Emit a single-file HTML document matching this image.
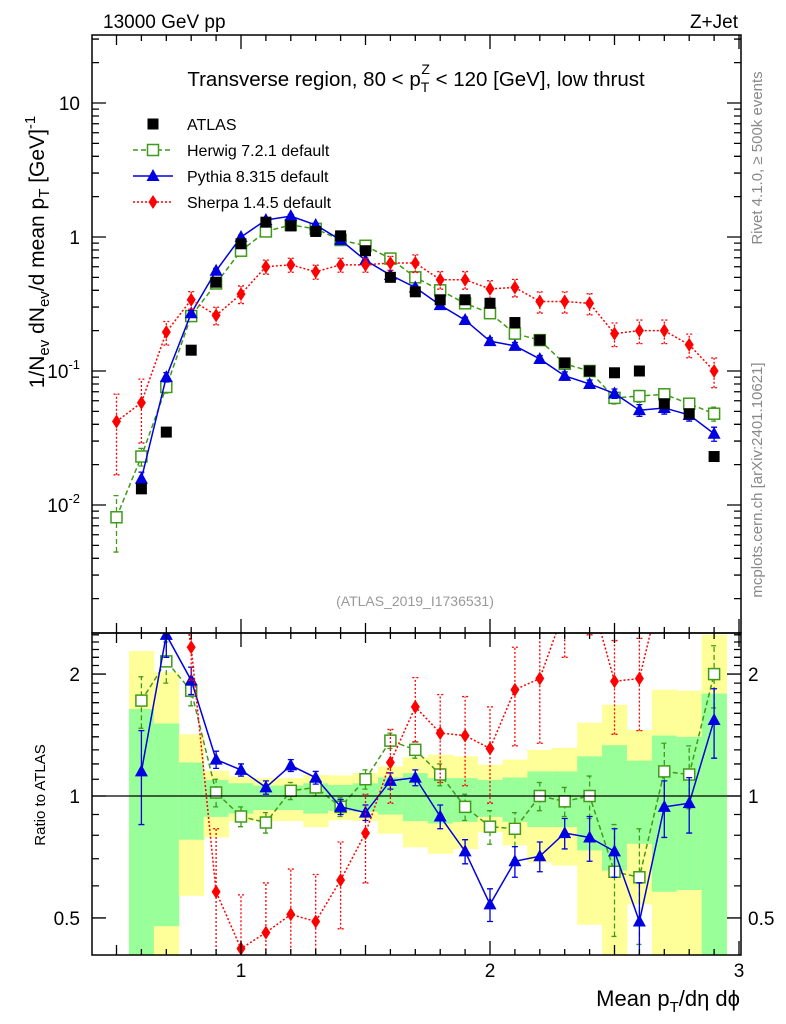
<!DOCTYPE html>
<html><head><meta charset="utf-8"><style>
html,body{margin:0;padding:0;background:#fff;}
svg{display:block;font-family:"Liberation Sans",sans-serif;}
</style></head><body>
<svg id="chart" width="786" height="1024" viewBox="0 0 786 1024" xmlns="http://www.w3.org/2000/svg">
<defs>
<clipPath id="clipMain"><rect x="92" y="35" width="649" height="598"/></clipPath>
<clipPath id="clipRatio"><rect x="92" y="633" width="649" height="322"/></clipPath>
</defs>
<g id="bands" clip-path="url(#clipRatio)"></g>
<g id="marks"></g>
<g id="axes"></g>
<text x="103" y="28" font-size="19">13000 GeV pp</text>
<text x="738" y="28" font-size="19" text-anchor="end">Z+Jet</text>
<text x="416" y="86" font-size="20.5" text-anchor="middle">Transverse region, 80 &lt; p<tspan font-size="14" dy="6">T</tspan><tspan font-size="14" dx="-8" dy="-18">Z</tspan><tspan dy="12"> &lt; 120 [GeV], low thrust</tspan></text>
<g>
<text x="187" y="130" font-size="16">ATLAS</text>
<text x="187" y="156" font-size="16">Herwig 7.2.1 default</text>
<text x="187" y="182" font-size="16">Pythia 8.315 default</text>
<text x="187" y="208" font-size="16">Sherpa 1.4.5 default</text>
</g>
<text transform="translate(44,252) rotate(-90)" font-size="21" text-anchor="middle">1/N<tspan font-size="15" dy="5">ev</tspan><tspan dy="-5"> dN</tspan><tspan font-size="15" dy="5">ev</tspan><tspan dy="-5">/d mean p</tspan><tspan font-size="15" dy="5">T</tspan><tspan dy="-5"> [GeV]</tspan><tspan font-size="15" dy="-9">-1</tspan></text>
<text transform="translate(45,795) rotate(-90)" font-size="15" text-anchor="middle">Ratio to ATLAS</text>
<text transform="translate(762,158) rotate(-90)" font-size="15" fill="#888" text-anchor="middle">Rivet 4.1.0, ≥ 500k events</text>
<text transform="translate(762,480) rotate(-90)" font-size="15" fill="#888" text-anchor="middle">mcplots.cern.ch [arXiv:2401.10621]</text>
<text x="415" y="606" font-size="14" fill="#999" text-anchor="middle">(ATLAS_2019_I1736531)</text>
<text x="740" y="1006" font-size="22" text-anchor="end">Mean p<tspan font-size="15" dy="6">T</tspan><tspan dy="-6">/dη dϕ</tspan></text>
</svg>
<script>
const xCenters=[0.5,0.6,0.7,0.8,0.9,1.0,1.1,1.2,1.3,1.4,1.5,1.6,1.7,1.8,1.9,2.0,2.1,2.2,2.3,2.4,2.5,2.6,2.7,2.8,2.9];
const atlasVals=[0.001,0.0132,0.035,0.143,0.46,0.89,1.29,1.21,1.1,1.02,0.79,0.50,0.39,0.34,0.34,0.32,0.23,0.17,0.115,0.10,0.097,0.10,0.057,0.048,0.023];
const herwigVals=[0.0081,0.023,0.076,0.257,0.45,0.79,1.1,1.23,1.15,0.95,0.86,0.69,0.50,0.40,0.32,0.27,0.19,0.17,0.113,0.10,0.063,0.065,0.067,0.057,0.048];
const pythiaVals=[null,0.0157,0.09,0.27,0.56,1.0,1.34,1.43,1.23,0.95,0.67,0.52,0.42,0.31,0.24,0.167,0.154,0.123,0.092,0.08,0.068,0.051,0.053,0.047,0.034];
const sherpaVals=[0.042,0.058,0.195,0.34,0.26,0.375,0.6,0.62,0.55,0.62,0.62,0.64,0.64,0.48,0.48,0.41,0.42,0.33,0.33,0.32,0.19,0.2,0.2,0.157,0.10];
const herwigErr=[0.45,0.15,0.1,0.08,0.05,0.04,0.04,0.04,0.04,0.04,0.04,0.04,0.05,0.05,0.05,0.06,0.06,0.06,0.07,0.07,0.1,0.1,0.1,0.1,0.12];
const pythiaErr=[0,0.12,0.08,0.05,0.04,0.03,0.03,0.03,0.03,0.03,0.03,0.04,0.04,0.05,0.05,0.06,0.06,0.06,0.07,0.07,0.08,0.1,0.1,0.1,0.12];
const sherpaErr=[0.6,0.5,0.2,0.15,0.15,0.15,0.12,0.12,0.12,0.12,0.12,0.12,0.15,0.15,0.15,0.15,0.15,0.18,0.18,0.18,0.2,0.2,0.2,0.2,0.25];
const herwigRatio=[null,1.72,2.15,1.82,1.02,0.89,0.86,1.03,1.05,0.94,1.1,1.37,1.3,1.13,0.94,0.84,0.83,1.0,0.97,1.0,0.65,0.63,1.15,1.13,2.0];
const pythiaRatio=[null,1.15,2.5,1.93,1.23,1.16,1.05,1.19,1.11,0.94,0.91,1.09,1.11,0.89,0.73,0.54,0.69,0.71,0.81,0.79,0.73,0.49,0.94,0.96,1.54];
const sherpaRatio=[null,4.4,5.6,2.33,0.58,0.42,0.46,0.51,0.49,0.62,0.81,1.21,1.66,1.43,1.41,1.31,1.83,1.95,2.9,3.2,1.92,1.95,3.5,3.3,4.3];
const herwigRatioErr=[0,0.25,0.25,0.15,0.08,0.05,0.05,0.05,0.05,0.05,0.06,0.06,0.06,0.07,0.07,0.08,0.08,0.08,0.08,0.12,0.2,0.2,0.2,0.2,0.35];
const pythiaRatioErr=[0,0.3,0.3,0.15,0.06,0.04,0.04,0.04,0.04,0.04,0.04,0.05,0.05,0.06,0.05,0.05,0.06,0.06,0.07,0.1,0.1,0.12,0.15,0.15,0.3];
const sherpaRatioErr=[0,1,1,0.4,0.25,0.15,0.15,0.15,0.15,0.15,0.2,0.25,0.3,0.35,0.35,0.35,0.5,0.6,0.7,0.7,0.5,0.5,0.7,0.7,0.8];
const yellowHi=[null,2.28,2.02,1.42,1.155,1.117,1.107,1.107,1.128,1.124,1.139,1.183,1.246,1.265,1.253,1.195,1.23,1.30,1.315,1.517,1.68,1.455,1.83,1.82,2.5];
const greenHi=[null,1.64,1.51,1.21,1.096,1.075,1.061,1.061,1.075,1.065,1.075,1.111,1.139,1.107,1.107,1.096,1.111,1.15,1.15,1.253,1.335,1.223,1.41,1.40,1.79];
const greenLo=[null,0.3,0.477,0.78,0.888,0.905,0.923,0.923,0.905,0.919,0.914,0.9,0.867,0.855,0.863,0.888,0.863,0.838,0.838,0.734,0.654,0.762,0.58,0.586,0.3];
const yellowLo=[null,0.3,0.3,0.567,0.79,0.867,0.867,0.867,0.838,0.871,0.867,0.807,0.747,0.72,0.74,0.815,0.755,0.686,0.673,0.481,0.3,0.54,0.3,0.3,0.3];

const NS='http://www.w3.org/2000/svg';
const X0=92,X1=741,MT=35,MB=633,RB=955;
function sx(v){return 241+(v-1)*249;}
function sy(v){return 237-Math.log10(v)*134;}
function sr(v){return 796-Math.log10(v)*405;}
function mk(tag,attrs,parent){const e=document.createElementNS(NS,tag);for(const k in attrs)e.setAttribute(k,attrs[k]);parent.appendChild(e);return e;}
const bands=document.getElementById('bands');
const marks=document.getElementById('marks');
const axes=document.getElementById('axes');
const gMain=mk('g',{'clip-path':'url(#clipMain)'},marks);


const gRatio=mk('g',{'clip-path':'url(#clipRatio)'},marks);



xCenters.forEach((x,i)=>{
  if(yellowHi[i]==null)return;
  const xa=sx(x-0.05),w=sx(x+0.05)-xa;
  const y=mk('rect',{x:xa,y:sr(yellowHi[i]),width:w+0.5,height:sr(yellowLo[i])-sr(yellowHi[i]),fill:'#ffff99'},bands);
  
  
  const g=mk('rect',{x:xa,y:sr(greenHi[i]),width:w+0.5,height:sr(greenLo[i])-sr(greenHi[i]),fill:'#99ff99'},bands);
  
  
});
const one=mk('line',{x1:X0,x2:X1,y1:sr(1),y2:sr(1),stroke:'#000','stroke-width':1.3},marks);



function marker(type,cx,cy,color,parent,name){
  let e;
  if(type==='sq') e=mk('rect',{x:cx-5.5,y:cy-5.5,width:11,height:11,fill:'#000'},parent);
  else if(type==='osq') e=mk('rect',{x:cx-5.5,y:cy-5.5,width:11,height:11,fill:'#fff',stroke:color,'stroke-width':1.5},parent);
  else if(type==='tri') e=mk('polygon',{points:`${cx},${cy-7} ${cx-6.5},${cy+5} ${cx+6.5},${cy+5}`,fill:color},parent);
  else e=mk('polygon',{points:`${cx},${cy-7} ${cx-4.5},${cy} ${cx},${cy+7} ${cx+4.5},${cy}`,fill:color},parent);
  
  
}
function series(vals,errs,fy,type,color,dash,parent,name,rel){
  const pts=[];
  xCenters.forEach((x,i)=>{if(vals[i]!=null)pts.push([sx(x),fy(vals[i]),i]);});
  const pl=mk('polyline',{points:pts.map(p=>p[0]+','+p[1]).join(' '),fill:'none',stroke:color,'stroke-width':1.5,'stroke-dasharray':dash},parent);
  
  
  pts.forEach(p=>{
    const v=vals[p[2]],e=errs[p[2]];
    if(e>0){
      const lo=rel?v*(1-e):v-e, hi=rel?v*(1+e):v+e;
      const yl=fy(Math.max(lo,1e-4)),yh=fy(hi);
      const el=mk('path',{d:`M${p[0]},${yl}V${yh}M${p[0]-3},${yl}H${p[0]+3}M${p[0]-3},${yh}H${p[0]+3}`,stroke:color,'stroke-width':1.3,fill:'none','stroke-dasharray':dash},parent);
      
      
    }
    marker(type,p[0],p[1],color,parent,name+'-point');
  });
}
const GREEN='#3f9a1a',BLUE='#0000e0',RED='#ff0000';
series(herwigVals,herwigErr,sy,'osq',GREEN,'5,3',gMain,'herwig',true);
series(pythiaVals,pythiaErr,sy,'tri',BLUE,'',gMain,'pythia',true);
series(sherpaVals,sherpaErr,sy,'dia',RED,'2,2',gMain,'sherpa',true);
xCenters.forEach((x,i)=>{marker('sq',sx(x),sy(atlasVals[i]),'#000',gMain,'atlas-point');});
series(herwigRatio,herwigRatioErr,sr,'osq',GREEN,'5,3',gRatio,'herwig-ratio',false);
series(pythiaRatio,pythiaRatioErr,sr,'tri',BLUE,'',gRatio,'pythia-ratio',false);
series(sherpaRatio,sherpaRatioErr,sr,'dia',RED,'2,2',gRatio,'sherpa-ratio',false);

const lg=mk('g',{},marks);


marker('sq',153,124,'#000',lg,'legend-atlas-marker');
[[150,GREEN,'5,3','osq'],[176,BLUE,'','tri'],[202,RED,'2,2','dia']].forEach(r=>{
  const l=mk('line',{x1:133,x2:173,y1:r[0],y2:r[0],stroke:r[1],'stroke-width':1.5,'stroke-dasharray':r[2]},lg);
  
  
  marker(r[3],153,r[0],r[1],lg,'legend-marker');
});

[[MT,MB],[MB,RB]].forEach(f=>{
  const r=mk('rect',{x:X0,y:f[0],width:X1-X0,height:f[1]-f[0],fill:'none',stroke:'#000','stroke-width':1.5},axes);
  
  
});
let d='';
for(let k=4;k<=30;k++){const v=k/10,x=sx(v);if(x<X0||x>X1)continue;const L=(k%10===0)?14:(k%5===0?10:6);
  d+=`M${x},${MB}v${-L}M${x},${MT}v${L}M${x},${RB}v${-L}M${x},${MB}v${L}`;}
for(let e=-3;e<=1;e++)for(let m=1;m<10;m++){const y=sy(m*Math.pow(10,e));if(y<MT||y>MB)continue;const L=m===1?14:7;d+=`M${X0},${y}h${L}M${X1},${y}h${-L}`;}
for(let v=0.4;v<=2.55;v+=0.1){const y=sr(v);if(y<MB||y>RB)continue;const major=Math.abs(v-1)<0.01||Math.abs(v-2)<0.01||Math.abs(v-0.5)<0.01;const L=major?14:7;d+=`M${X0},${y}h${L}M${X1},${y}h${-L}`;}
const tk=mk('path',{d:d,stroke:'#000','stroke-width':1.3,fill:'none'},axes);



const xTickLabels=['1','2','3'];
xTickLabels.forEach(t=>{const e=mk('text',{x:sx(+t),y:977,'font-size':19,'text-anchor':'middle'},axes);e.textContent=t;
  
  });
const yTickVals=[10,1,0.1,0.01];
yTickVals.forEach(v=>{const e=mk('text',{x:80,y:sy(v)+7,'font-size':19,'text-anchor':'end'},axes);
  if(v>=1)e.textContent=String(v);else{const ex=Math.round(Math.log10(v));e.innerHTML=`10<tspan font-size="13" dy="-9">${ex}</tspan>`;}
  
  });
const ratioTicks=['2','1','0.5'];
ratioTicks.forEach(t=>{[[80,'end'],[748,'start']].forEach(p=>{const e=mk('text',{x:p[0],y:sr(+t)+7,'font-size':19,'text-anchor':p[1]},axes);e.textContent=t;
  
  });});
</script>
</body></html>
